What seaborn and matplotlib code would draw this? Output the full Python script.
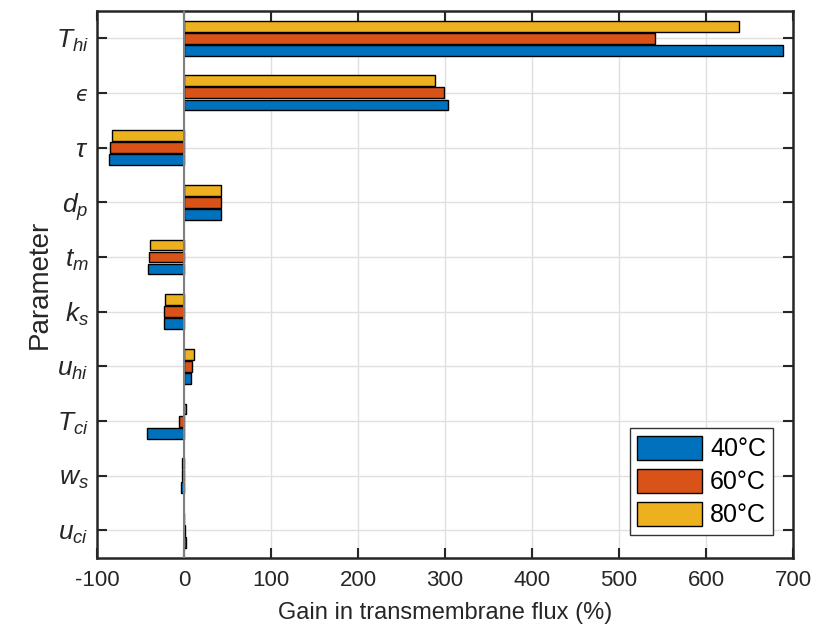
import matplotlib
matplotlib.use("Agg")
import matplotlib.pyplot as plt
import numpy as np
import pandas as pd
import seaborn as sns
from matplotlib.patches import Patch

# values (% gain in transmembrane flux)
params = [r"$T_{hi}$", "ϵ", r"$\tau$", r"$d_p$", r"$t_m$",
          r"$k_s$", r"$u_{hi}$", r"$T_{ci}$", r"$w_s$", r"$u_{ci}$"]
gain_40 = [689, 304, -86, 43, -41, -22.6, 7.7, -42, -3, 2.7]
gain_60 = [541, 298.5, -85, 43, -40.6, -22.6, 9.6, -5.4, -2, 1]
gain_80 = [638, 288, -83, 43, -39, -21.5, 11.5, 2.7, -2, -0.5]
temps = ["40°C", "60°C", "80°C"]
colors = {"40°C": "#0072BD", "60°C": "#D95319", "80°C": "#EDB120"}

df = pd.concat(
    [
        pd.DataFrame({"param": params, "gain": vals, "temp": t})
        for t, vals in zip(temps, [gain_40, gain_60, gain_80])
    ],
    ignore_index=True,
)

sns.set_style("ticks")
plt.rcParams["font.family"] = ["Liberation Sans", "DejaVu Sans"]
plt.rcParams["mathtext.fontset"] = "custom"
plt.rcParams["mathtext.rm"] = "Liberation Sans"
plt.rcParams["mathtext.it"] = "Liberation Sans:italic"
plt.rcParams["mathtext.fallback"] = "cm"
plt.rcParams["axes.unicode_minus"] = False

text_col = "#262626"

fig = plt.figure(figsize=(8.18, 6.39), dpi=100)
ax = fig.add_axes([0.1186, 0.127, 0.8508, 0.856])

# yellow on top of each group, blue at the bottom
sns.barplot(
    data=df, y="param", x="gain", hue="temp",
    hue_order=temps[::-1], palette=colors, orient="h",
    width=0.66, gap=0.1, saturation=1, edgecolor="black", linewidth=1,
    legend=False, ax=ax,
)
ax.axvline(0, color="#808080", linewidth=1.5, zorder=3)

ax.grid(True, axis="both", color="#e0e0e0", linewidth=1)
ax.set_axisbelow(True)

ax.set_xlim(-100, 700)
ax.set_xticks(np.arange(-100, 701, 100))
ax.set_ylim(9.5, -0.5)

for s in ax.spines.values():
    s.set_visible(True)
    s.set_color(text_col)
    s.set_linewidth(1.8)

ax.tick_params(axis="both", direction="in", top=True, right=True,
               length=7, width=1.5, color=text_col, labelcolor=text_col)
ax.tick_params(axis="x", labelsize=16, pad=9)
ax.tick_params(axis="y", labelsize=19, pad=6)

for lbl in ax.get_yticklabels():
    if lbl.get_text() == "ϵ":
        lbl.set_fontfamily("DejaVu Sans")
        lbl.set_fontstyle("italic")
        lbl.set_fontsize(15)

ax.set_xlabel("Gain in transmembrane flux (%)", fontsize=17, color=text_col,
              labelpad=8)
ax.set_ylabel("Parameter", fontsize=20, color=text_col, labelpad=2)

handles = [Patch(facecolor=colors[t], edgecolor="black", linewidth=1) for t in temps]
leg = ax.legend(handles, temps, loc="lower right", bbox_to_anchor=(0.972, 0.042),
                borderaxespad=0, fontsize=18, handlelength=2.6, handleheight=1.1,
                fancybox=False, framealpha=1, edgecolor="#333333",
                borderpad=0.3, labelspacing=0.3, handletextpad=0.3)
leg.get_frame().set_linewidth(1)
for t in leg.get_texts():
    t.set_color("black")

fig.savefig("out.png", dpi=100)
